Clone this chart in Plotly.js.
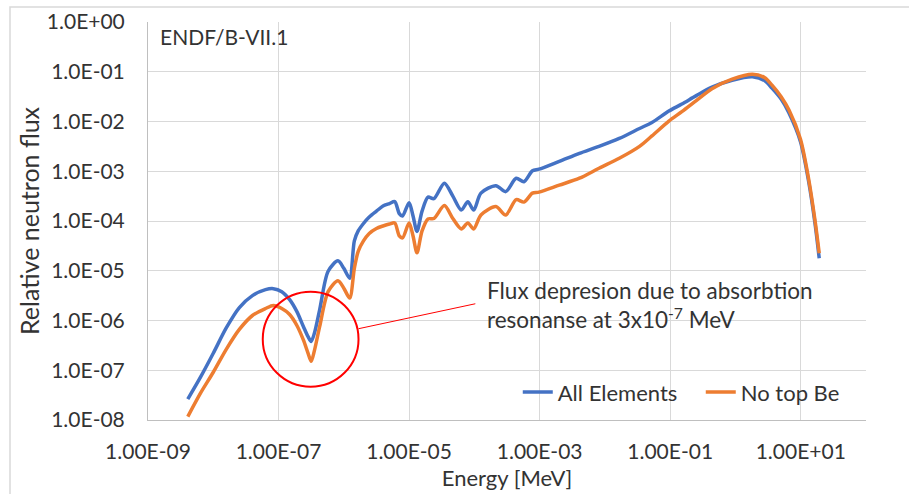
<!DOCTYPE html>
<html>
<head>
<meta charset="utf-8">
<script src="https://cdn.plot.ly/plotly-3.0.1.min.js"></script>
<style>
html,body{margin:0;padding:0;background:#fff;}
#chart{width:909px;height:494px;}
</style>
</head>
<body>
<div id="chart"></div>
<script>
// Energy grid [MeV]
var energy = [4.07e-9, 6.31e-9, 1.00e-8, 1.58e-8, 2.51e-8, 3.98e-8, 6.31e-8, 8.32e-8,
  1.12e-7, 1.48e-7, 1.91e-7, 2.40e-7, 2.82e-7, 3.16e-7, 3.55e-7, 4.27e-7,
  5.75e-7, 8.13e-7, 1.00e-6, 1.23e-6, 1.45e-6, 1.66e-6, 2.00e-6, 2.45e-6,
  3.16e-6, 3.98e-6, 5.01e-6, 6.03e-6, 7.08e-6, 7.94e-6, 1.00e-5, 1.15e-5,
  1.32e-5, 1.58e-5, 1.95e-5, 2.40e-5, 3.47e-5, 4.68e-5, 6.31e-5, 7.94e-5,
  9.77e-5, 1.26e-4, 2.14e-4, 3.02e-4, 4.37e-4, 5.75e-4, 7.76e-4, 9.77e-4,
  2.00e-3, 4.07e-3, 8.13e-3, 1.66e-2, 3.39e-2, 5.25e-2, 9.55e-2, 0.151,
  0.251, 0.437, 0.891, 1.82, 2.82, 3.63, 5.01, 6.61,
  9.89, 13.2, 16.6, 19.2];

// Relative flux, "All Elements"
var fluxAll = [2.63e-8, 7.08e-8, 2.19e-7, 7.08e-7, 1.82e-6, 3.16e-6, 4.17e-6, 4.37e-6,
  3.80e-6, 2.63e-6, 1.51e-6, 7.59e-7, 4.79e-7, 3.80e-7, 5.62e-7, 1.66e-6,
  9.77e-6, 1.58e-5, 1.12e-5, 7.08e-6, 3.98e-5, 6.31e-5, 8.91e-5, 1.20e-4,
  1.58e-4, 2.00e-4, 2.24e-4, 2.45e-4, 1.41e-4, 1.26e-4, 2.34e-4, 1.26e-4,
  6.17e-5, 1.58e-4, 3.02e-4, 2.82e-4, 5.75e-4, 3.16e-4, 1.66e-4, 2.45e-4,
  1.66e-4, 3.63e-4, 5.13e-4, 3.89e-4, 7.24e-4, 6.17e-4, 1.02e-3, 1.10e-3,
  1.58e-3, 2.29e-3, 3.16e-3, 4.57e-3, 7.24e-3, 9.55e-3, 1.62e-2, 2.24e-2,
  3.31e-2, 4.90e-2, 6.76e-2, 7.94e-2, 6.61e-2, 4.68e-2, 2.82e-2, 1.48e-2,
  3.98e-3, 6.31e-4, 8.71e-5, 1.78e-5];

// Relative flux, "No top Be"
var fluxNoBe = [1.17e-8, 3.39e-8, 9.12e-8, 2.63e-7, 6.61e-7, 1.26e-6, 1.74e-6, 2.00e-6,
  1.74e-6, 1.32e-6, 7.94e-7, 4.07e-7, 2.24e-7, 1.51e-7, 2.51e-7, 7.59e-7,
  3.80e-6, 6.31e-6, 4.47e-6, 2.82e-6, 1.12e-5, 2.45e-5, 3.98e-5, 5.62e-5,
  7.08e-5, 7.94e-5, 8.71e-5, 9.12e-5, 5.01e-5, 4.57e-5, 9.12e-5, 5.01e-5,
  2.29e-5, 6.31e-5, 1.10e-4, 1.12e-4, 2.04e-4, 1.12e-4, 6.92e-5, 9.12e-5,
  6.92e-5, 1.32e-4, 1.95e-4, 1.32e-4, 2.69e-4, 2.40e-4, 3.63e-4, 3.80e-4,
  5.25e-4, 7.24e-4, 1.15e-3, 1.82e-3, 3.16e-3, 5.13e-3, 1.02e-2, 1.58e-2,
  2.63e-2, 4.57e-2, 7.08e-2, 8.91e-2, 7.59e-2, 5.37e-2, 3.16e-2, 1.70e-2,
  4.47e-3, 7.08e-4, 1.00e-4, 2.24e-5];

var seriesNames = ["All Elements", "No top Be"];

var xTickVals = [1e-9, 1e-7, 1e-5, 1e-3, 1e-1, 1e1];
var xTickText = ["1.00E-09", "1.00E-07", "1.00E-05", "1.00E-03", "1.00E-01", "1.00E+01"];
var yTickVals = [1e-8, 1e-7, 1e-6, 1e-5, 1e-4, 1e-3, 1e-2, 1e-1, 1e0];
var yTickText = ["1.0E-08", "1.0E-07", "1.0E-06", "1.0E-05", "1.0E-04", "1.0E-03", "1.0E-02", "1.0E-01", "1.0E+00"];

var FONT = "Lato, 'Open Sans', sans-serif";
var TXT = "#333333";

var traces = [
  {x: energy, y: fluxAll, name: seriesNames[0], type: "scatter", mode: "lines",
   line: {color: "#4472C4", width: 3.5, shape: "spline", smoothing: 0.8}},
  {x: energy, y: fluxNoBe, name: seriesNames[1], type: "scatter", mode: "lines",
   line: {color: "#ED7D31", width: 3.5, shape: "spline", smoothing: 0.8}}
];

var layout = {
  width: 909, height: 494,
  margin: {l: 148, r: 43, t: 22, b: 74, autoexpand: false},
  paper_bgcolor: "#ffffff", plot_bgcolor: "#ffffff",
  font: {family: FONT, color: TXT, size: 21},
  showlegend: true,
  legend: {orientation: "h", x: 0.515, y: 0.07, xanchor: "left", yanchor: "middle",
           bgcolor: "rgba(255,255,255,0)", font: {size: 22, color: TXT},
           entrywidth: 138, entrywidthmode: "pixels", tracegroupgap: 0},
  xaxis: {type: "log", range: [-9, 2], tickvals: xTickVals, ticktext: xTickText,
          showgrid: true, gridcolor: "#D9D9D9", gridwidth: 1,
          showline: true, linecolor: "#BFBFBF", linewidth: 1,
          ticks: "outside", ticklen: 13, tickcolor: "rgba(0,0,0,0)",
          tickfont: {size: 21, color: TXT}, zeroline: false, automargin: false,
          title: {text: "Energy [MeV]", font: {size: 22, color: TXT}, standoff: 8}},
  yaxis: {type: "log", range: [-8, 0], tickvals: yTickVals, ticktext: yTickText,
          showgrid: true, gridcolor: "#D9D9D9", gridwidth: 1,
          showline: true, linecolor: "#BFBFBF", linewidth: 1,
          ticks: "outside", ticklen: 18, tickcolor: "rgba(0,0,0,0)",
          tickfont: {size: 21, color: TXT}, zeroline: false, automargin: false,
          title: {text: "Relative neutron flux", font: {size: 25, color: TXT}, standoff: 0}},
  shapes: [
    {type: "rect", xref: "paper", yref: "paper", x0: -0.1922, x1: 1.07, y0: -0.3, y1: 1.0377,
     line: {color: "#D9D9D9", width: 1.5}, fillcolor: "rgba(0,0,0,0)", layer: "below"},
    {type: "circle", xref: "x", yref: "y", x0: 5.73e-8, x1: 1.68e-6, y0: 4.68e-8, y1: 3.8e-6,
     line: {color: "#FF0000", width: 2}},
    {type: "line", xref: "x", yref: "y", x0: 1.68e-6, y0: 6.84e-7, x1: 1.035e-4, y1: 2.17e-6,
     line: {color: "#FF0000", width: 1}}
  ],
  annotations: [
    {xref: "x", yref: "y", x: -8.847, y: -0.30, xanchor: "left", yanchor: "middle",
     text: "ENDF/B-VII.1", showarrow: false, font: {size: 21, color: TXT}},
    {xref: "x", yref: "y", x: -3.832, y: -5.693, xanchor: "left", yanchor: "middle", align: "left",
     text: "Flux depresion due to absorbtion<br>resonanse at 3x10<sup>-7</sup> MeV",
     showarrow: false, font: {size: 22.5, color: TXT}}
  ]
};

Plotly.newPlot("chart", traces, layout, {displayModeBar: false, staticPlot: true});
</script>
</body>
</html>
